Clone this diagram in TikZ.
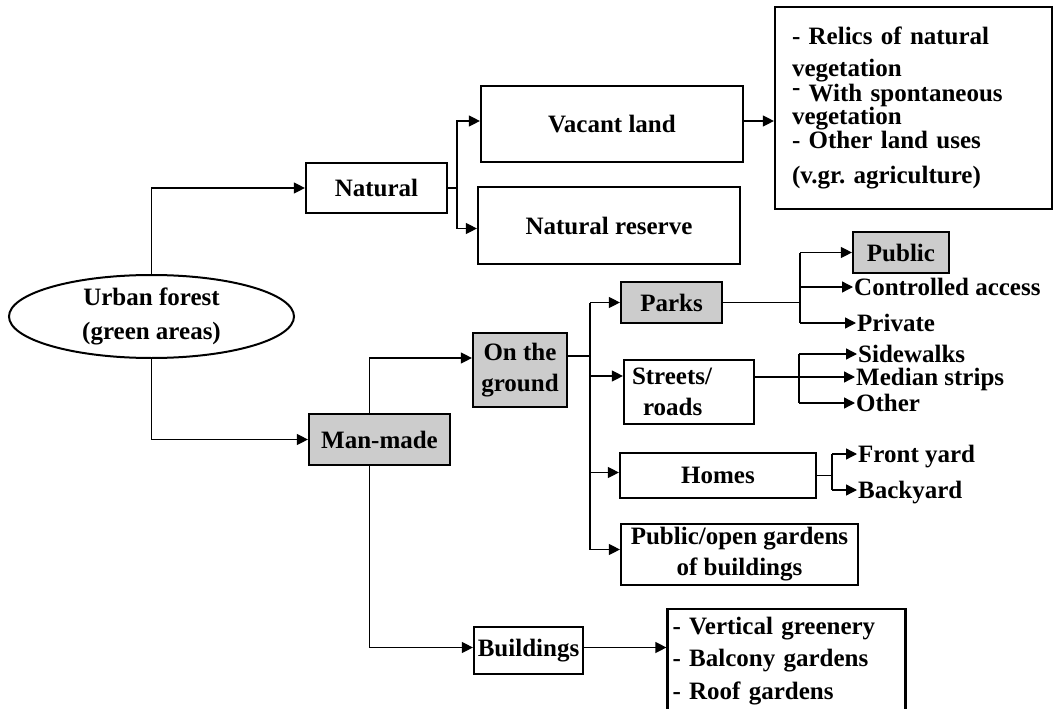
\documentclass[tikz,border=0pt]{standalone}
\usepackage{fontspec}
\setmainfont{Liberation Serif}
\usetikzlibrary{shapes.geometric,arrows.meta}
\newcommand\uftextstyle{\bfseries\fontsize{25}{31}\selectfont}
\newcommand\uflisttextstyle{\bfseries\fontsize{25}{24}\selectfont\frenchspacing}
\tikzset{
  ufbox/.style={draw, line width=2.2pt, rectangle, inner sep=0pt, align=center, font=\uftextstyle},
  ufgray/.style={ufbox, fill=black!20},
  uflabel/.style={inner sep=1pt, anchor=west, font=\uftextstyle, text height=17pt, text depth=0pt},
  ufline/.style={line width=1.3pt},
  ufarrow/.style={ufline, -{Triangle[length=11pt, width=11pt]}},
}

\begin{document}
\begin{tikzpicture}[x=1pt, y=-1pt]
  \useasboundingbox (0, 0) rectangle (1053, 709) ;
  \node[ellipse, draw, line width=2pt, minimum width=285pt, minimum height=83pt, inner sep=0pt, align=center, font=\uftextstyle] (forest) at (151.5, 316.5) {Urban forest\\[3pt](green areas)} ;
  \node[ufbox, minimum width=141pt, minimum height=50pt] (natural) at (376.5, 188) {Natural} ;
  \node[ufgray, minimum width=141pt, minimum height=51pt] (manmade) at (379.5, 439.5) {Man-made} ;
  \node[ufbox, minimum width=262pt, minimum height=76pt] (vacant) at (612, 124) {Vacant land} ;
  \node[ufbox, minimum width=262pt, minimum height=77pt] (reserve) at (609, 225.5) {Natural reserve} ;
  \node[ufbox, minimum width=277pt, minimum height=202pt, text width=243pt, inner xsep=17pt, align=left, font=\uflisttextstyle] (relics) at (913.5, 108)
    {\raisebox{3pt}{}- Relics of natural\\[8pt]vegetation\\[1pt]\raisebox{6pt}{-} With spontaneous\\[-1pt]vegetation\\- Other land uses\\[11pt](v.gr. agriculture)\\[-6pt]} ;
  \node[ufgray, minimum width=94pt, minimum height=74pt] (ground) at (520, 370) {On the\\ground} ;
  \node[ufgray, minimum width=101pt, minimum height=41pt] (parks) at (671.5, 302.5) {Parks} ;
  \node[ufbox, minimum width=130pt, minimum height=64pt, text width=114pt, inner xsep=8pt, align=left] (streets) at (689, 392) {Streets/\\\hspace*{11pt}roads} ;
  \node[ufbox, minimum width=196pt, minimum height=45pt] (homes) at (718, 475.5) {Homes} ;
  \node[ufbox, minimum width=237pt, minimum height=61pt] (gardens) at (739.5, 554.5) {Public/open gardens\\of buildings} ;
  \node[ufbox, minimum width=109pt, minimum height=47pt] (buildings) at (528.5, 650.5) {Buildings} ;
  \node[ufbox, minimum width=233pt, minimum height=104pt, text width=228pt, inner xsep=5pt, align=left, font=\bfseries\fontsize{25}{32.5}\selectfont] (greenery) at (786.5, 661)
    {- Vertical greenery\\- Balcony gardens\\- Roof gardens} ;
  \node[ufgray, minimum width=96pt, minimum height=41pt] (public) at (901, 252.5) {Public} ;
  \node[uflabel] (controlled) at (853, 287) {Controlled access} ;
  \node[uflabel] (private) at (856, 323) {Private} ;
  \node[uflabel] (sidewalks) at (857, 354) {Sidewalks} ;
  \node[uflabel] (median) at (855, 377) {Median strips} ;
  \node[uflabel] (other) at (855, 403) {Other} ;
  \node[uflabel] (frontyard) at (857, 454) {Front yard} ;
  \node[uflabel] (backyard) at (857, 490) {Backyard} ;

  \draw[ufarrow] (forest.north) |- (natural.west) ;
  \draw[ufarrow] (forest.south) |- (manmade.west) ;

  \coordinate (natsplit) at (457, 188) ;
  \draw[ufline] (natural.east) -- (natsplit) ;
  \draw[ufarrow] (natsplit) |- ([yshift=3pt]vacant.west) ;
  \draw[ufarrow] (natsplit) |- ([yshift=-3pt]reserve.west) ;
  \draw[ufarrow] ([yshift=3pt]vacant.east) -- ([yshift=3pt]vacant.east -| relics.west) ;

  \draw[ufarrow] ([xshift=-10pt]manmade.north) |- ([yshift=12pt]ground.west) ;
  \draw[ufarrow] ([xshift=-10pt]manmade.south) |- ([yshift=3pt]buildings.west) ;
  \draw[ufarrow] ([yshift=3pt]buildings.east) -- ([yshift=3pt]buildings.east -| greenery.west) ;

  \coordinate (groundsplit) at (590, 356) ;
  \coordinate (streetsin) at ([yshift=16pt]streets.west) ;
  \coordinate (homesin) at ([yshift=3pt]homes.west) ;
  \coordinate (gardensin) at ([yshift=5pt]gardens.west) ;
  \draw[ufline] ([yshift=14pt]ground.east) -- (groundsplit) ;
  \draw[ufline] (groundsplit |- parks.west) -- (groundsplit |- gardensin) ;
  \draw[ufarrow] (groundsplit |- parks.west) -- (parks.west) ;
  \draw[ufarrow] (groundsplit |- streetsin) -- (streetsin) ;
  \draw[ufarrow] (groundsplit |- homesin) -- (homesin) ;
  \draw[ufarrow] (groundsplit |- gardensin) -- (gardensin) ;

  \coordinate (parksplit) at (800, 302.5) ;
  \draw[ufline] (parks.east) -- (parksplit) ;
  \draw[ufline] (parksplit |- public.west) -- (parksplit |- private.west) ;
  \draw[ufarrow] (parksplit |- public.west) -- (public.west) ;
  \draw[ufarrow] (parksplit |- controlled.west) -- (controlled.west) ;
  \draw[ufarrow] (parksplit |- private.west) -- (private.west) ;

  \coordinate (streetsplit) at (799, 377) ;
  \draw[ufline] ([yshift=15pt]streets.east) -- (streetsplit) ;
  \draw[ufline] (streetsplit |- sidewalks.west) -- (streetsplit |- other.west) ;
  \draw[ufarrow] (streetsplit |- sidewalks.west) -- (sidewalks.west) ;
  \draw[ufarrow] (streetsplit |- median.west) -- (median.west) ;
  \draw[ufarrow] (streetsplit |- other.west) -- (other.west) ;

  \coordinate (homesplit) at (832, 475.5) ;
  \draw[ufline] (homes.east) -- (homesplit) ;
  \draw[ufline] (homesplit |- frontyard.west) -- (homesplit |- backyard.west) ;
  \draw[ufarrow] (homesplit |- frontyard.west) -- (frontyard.west) ;
  \draw[ufarrow] (homesplit |- backyard.west) -- (backyard.west) ;
\end{tikzpicture}
\end{document}
